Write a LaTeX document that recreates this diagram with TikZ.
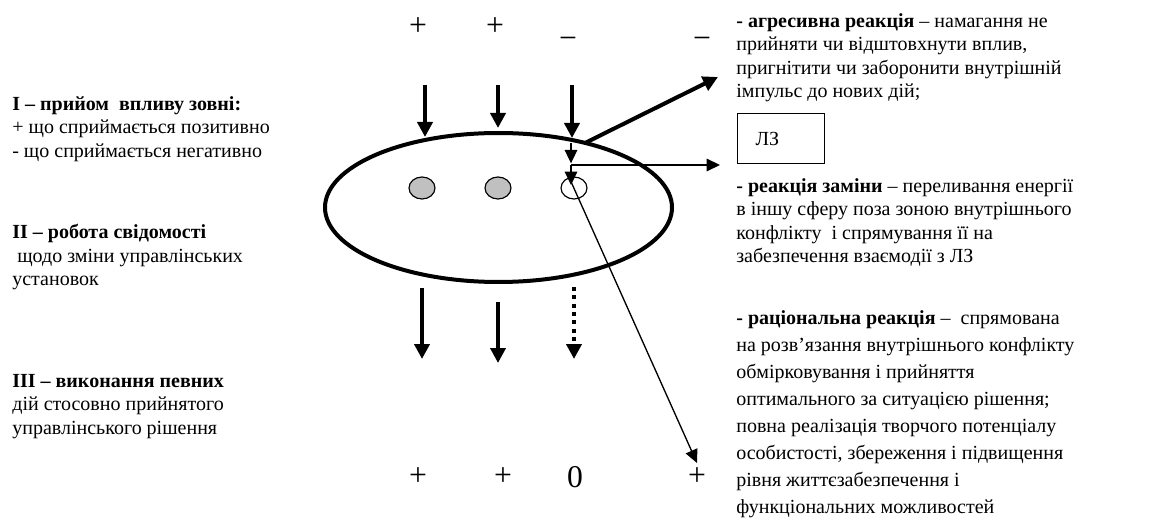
\documentclass[tikz,border=0pt]{standalone}
\usepackage{fontspec}
\setmainfont{Liberation Serif}
\usetikzlibrary{arrows.meta,shapes.geometric}

\begin{document}
\begin{tikzpicture}[
    x=0.6pt, y=-0.6pt,
    texto/.style={align=left, anchor=north west, inner sep=0pt,
        font=\fontsize{12}{14.1}\selectfont},
    textolargo/.style={texto, font=\fontsize{12}{16.2}\selectfont},
    sinal/.style={inner sep=0pt, font=\fontsize{19}{19}\selectfont},
    oval/.style={ellipse, draw, line width=2.4pt, inner sep=0pt,
        minimum width=208.2pt, minimum height=89.4pt},
    bolinha/.style={ellipse, draw, line width=0.7pt, inner sep=0pt,
        minimum width=15.6pt, minimum height=13.2pt},
    lzcaixa/.style={draw, line width=0.7pt, anchor=north west, align=left,
        inner xsep=10.8pt, inner ysep=0pt, text width=30.6pt,
        minimum height=30pt, font=\fontsize{12}{14.1}\selectfont},
    seta/.style={-{Triangle[width=9pt,length=9pt]}, line width=2.4pt},
    setafina/.style={-{Triangle[width=7.5pt,length=8pt]}, line width=0.8pt},
    pontilhada/.style={seta, dash pattern=on 2.4pt off 2.6pt}
]
\useasboundingbox (0,0) rectangle (1150,518);

% Textos à esquerda
\node[texto] (etapa1) at (12,96)
    {\textbf{I – прийом\ \ впливу зовні:}\\+ що сприймається позитивно\\- що сприймається негативно};
\node[texto] (etapa2) at (12,224)
    {\textbf{II – робота свідомості}\\\ щодо зміни управлінських\\установок};
\node[texto] (etapa3) at (12,374)
    {\textbf{III – виконання певних}\\дій стосовно прийнятого\\управлінського рішення};

% Sinais
\node[sinal] (mais1) at (418,27) {+};
\node[sinal] (mais2) at (495,27) {+};
\node[sinal] (menos1) at (568,43) {−};
\node[sinal] (menos2) at (702,43) {−};
\node[sinal] (mais3) at (418,477) {+};
\node[sinal] (mais4) at (503,477) {+};
\node[sinal] (zero) at (575,477) {0};
\node[sinal] (mais5) at (697,477) {+};

% Elipse e bolinhas
\node[oval] (psique) at (498.5,207.5) {};
\node[bolinha, fill={rgb,255:red,192;green,192;blue,192}] (b1) at (422,188) {};
\node[bolinha, fill={rgb,255:red,192;green,192;blue,192}] (b2) at (498,188) {};
\node[bolinha, fill=white] (b3) at (574,188) {};

% Caixa LZ
\node[lzcaixa] (lz) at (737,113) {ЛЗ};

% Textos à direita
\node[texto] (agressiva) at (736,13)
    {\textbf{- агресивна реакція} – намагання не\\прийняти чи відштовхнути вплив,\\пригнітити чи заборонити внутрішній\\імпульс до нових дій;};
\node[texto] (troca) at (736,178)
    {\textbf{- реакція заміни} – переливання енергії\\в іншу сферу поза зоною внутрішнього\\конфлікту\ \ і спрямування її на\\забезпечення взаємодії з ЛЗ};
\node[textolargo] (racional) at (736,310)
    {\textbf{- раціональна реакція} –\ \ спрямована\\на розв’язання внутрішнього конфлікту\\обмірковування і прийняття\\оптимального за ситуацією рішення;\\повна реалізація творчого потенціалу\\особистості, збереження і підвищення\\рівня життєзабезпечення і\\функціональних можливостей};

% Pontos auxiliares
\coordinate (in1) at (425,85);
\coordinate (in2) at (498,85);
\coordinate (in3) at (572,85);
\coordinate (ent1) at (425,137);
\coordinate (ent2) at (498,128);
\coordinate (ent3) at (572,138);
\coordinate (borda) at (585,143);
\coordinate (fora) at (718,77);
\coordinate (topo) at (571,143);
\coordinate (nó) at (571,165);
\coordinate (lado) at (720,165);
\coordinate (dentro) at (571,185);
\coordinate (fim) at (697,463);
\coordinate (s1) at (422,288);
\coordinate (s2) at (498,302);
\coordinate (s3) at (574,287);
\coordinate (f1) at (422,359);
\coordinate (f2) at (498,363);
\coordinate (f3) at (574,359);

% Conexões
\draw[seta] (in1) -- (ent1);
\draw[seta] (in2) -- (ent2);
\draw[seta] (in3) -- (ent3);
\draw[seta] (borda) -- (fora);
\draw[setafina] (topo) -- ([yshift=1pt]nó);
\draw[setafina] (nó) -- (lado);
\draw[setafina] (nó) -- (dentro);
\draw[setafina] ([yshift=2pt]dentro) -- (fim);
\draw[seta] (s1) -- (f1);
\draw[seta] (s2) -- (f2);
\draw[pontilhada] (s3) -- (f3);

\end{tikzpicture}
\end{document}
